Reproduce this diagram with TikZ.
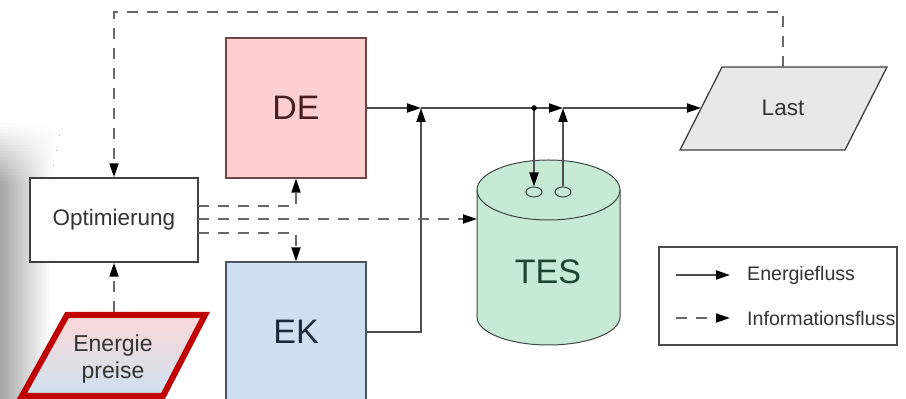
\documentclass[tikz,border=0pt]{standalone}
\usepackage{fontspec}
\setmainfont{Liberation Sans}
\usetikzlibrary{arrows.meta,shapes.geometric}
\definecolor{defill}{RGB}{252,208,208}
\definecolor{deborder}{RGB}{110,70,70}
\definecolor{detext}{RGB}{75,30,30}
\definecolor{ekfill}{RGB}{207,224,240}
\definecolor{ekborder}{RGB}{70,85,100}
\definecolor{ektext}{RGB}{30,43,59}
\definecolor{tesfill}{RGB}{198,234,212}
\definecolor{tesborder}{RGB}{60,70,65}
\definecolor{testext}{RGB}{30,69,48}
\definecolor{lastfill}{RGB}{232,232,232}
\definecolor{linecol}{RGB}{77,77,77}
\definecolor{dashcol}{RGB}{105,105,105}
\definecolor{txt}{RGB}{51,51,51}
\definecolor{epred}{RGB}{192,0,0}
\definecolor{eppink}{RGB}{252,215,215}
\definecolor{epblue}{RGB}{205,226,240}
\newcommand\bigfnt{\fontsize{34}{40}\selectfont}
\newcommand\midfnt{\fontsize{22.5}{27}\selectfont}
\newcommand\legfnt{\fontsize{19.6}{23}\selectfont}
\begin{document}
\begin{tikzpicture}[x=1pt,y=1pt,
  tip/.style={-{Triangle[length=14pt,width=9pt,color=black]}},
  en/.style={draw=linecol, line width=1.8pt, tip},
  info/.style={draw=dashcol, line width=1.8pt, dash pattern=on 11pt off 9pt, tip},
  sqbox/.style={draw, line width=1.3pt, minimum width=140pt, minimum height=140pt, inner sep=0pt, font=\bigfnt},
  hole/.style={ellipse, draw=tesborder, line width=1pt, minimum width=16pt, minimum height=10pt, inner sep=0pt}
]
\useasboundingbox (0,0) rectangle (906,399);
% left grey shadow
\fill[left color=gray!70, right color=white] (0,0) rectangle (50,215);
\foreach \i in {0,...,19}{
  \pgfmathsetmacro\pct{70*(1-(\i+0.5)/20)}
  \fill[left color=gray!\pct, right color=white] (0,215+\i*3) rectangle (50+\i*0.6,218.2+\i*3);
}

% boxes
\node[sqbox, fill=defill, draw=deborder, text=detext] (de) at (296,291) {DE};
\node[sqbox, fill=ekfill, draw=ekborder, text=ektext] (ek) at (296,67) {EK};
\node[draw=black!75, line width=1.3pt, fill=white, minimum width=168pt, minimum height=84pt, inner sep=0pt, font=\midfnt, text=txt] (opt) at (114,179) {Optimierung};

% Energie preise
\shade[top color=eppink, middle color=white, bottom color=epblue] (22,3) -- (67,84) -- (205,84) -- (163,3) -- cycle;
\draw[epred, line width=6pt, line join=miter] (22,3) -- (67,84) -- (205,84) -- (163,3) -- cycle;
\node[align=center, font=\fontsize{23}{27}\selectfont, text=txt] (ep) at (113,40) {Energie\\preise};
\coordinate (eptop) at (114,87);

% Last
\fill[lastfill] (680,249) -- (722,332) -- (887,332) -- (845,249) -- cycle;
\draw[black!75, line width=1.3pt] (680,249) -- (722,332) -- (887,332) -- (845,249) -- cycle;
\node[font=\midfnt, text=txt] (last) at (783,291) {Last};
\coordinate (lastin) at (701,291);
\coordinate (lasttop) at (783,332);
\coordinate (topright) at (783,387);

% TES
\fill[tesfill] (477,209) -- (477,82) arc[start angle=180,end angle=360,x radius=71.5,y radius=28] -- (620,209) arc[start angle=0,end angle=180,x radius=71.5,y radius=30] -- cycle;
\draw[tesborder, line width=1pt] (477,209) -- (477,82) arc[start angle=180,end angle=360,x radius=71.5,y radius=28] -- (620,209);
\draw[tesborder, line width=1pt] (548.5,209) ellipse [x radius=71.5, y radius=30];
\node[hole] (h1) at (534,207) {};
\node[hole] (h2) at (563,207) {};
\node[font=\bigfnt, text=testext] (tes) at (548,127) {TES};
\coordinate (tesleft) at (477,180);

% junctions
\coordinate (j1) at (421,291);
\coordinate (dot) at (534,291);
\coordinate (j2) at (563,291);

% energy flows
\draw[en] (de.east) -- (j1);
\draw[en] (ek.east) -| (j1);
\draw[en] (j1) -- (j2);
\draw[en] (j2) -- (lastin);
\draw[en] (dot) -- (h1.north);
\draw[en] (h2.north) -- (j2);
\fill[black] (dot) circle (2.8);

% information flows
\coordinate (o1) at (198,193);
\coordinate (o2) at (198,180);
\coordinate (o3) at (198,166);
\draw[info] (lasttop) -- (topright) -| (opt.north);
\draw[info] (eptop) -- (opt.south);
\draw[info] (o1) -| (de.south);
\draw[info] (o3) -| (ek.north);
\draw[info] (o2) -- (tesleft);

% legend
\node[draw=black!70, line width=1.2pt, minimum width=238pt, minimum height=98pt, inner sep=0pt] (leg) at (778,103) {};
\coordinate (l1a) at (676,124);
\coordinate (l1b) at (730,124);
\coordinate (l2a) at (676,81);
\coordinate (l2b) at (730,81);
\draw[en] (l1a) -- (l1b);
\draw[info] (l2a) -- (l2b);
\node[anchor=west, font=\legfnt, text=txt, inner sep=0pt] (l1t) at (747,124) {Energiefluss};
\node[anchor=west, font=\legfnt, text=txt, inner sep=0pt] (l2t) at (747,81) {Informationsfluss};
\end{tikzpicture}
\end{document}
